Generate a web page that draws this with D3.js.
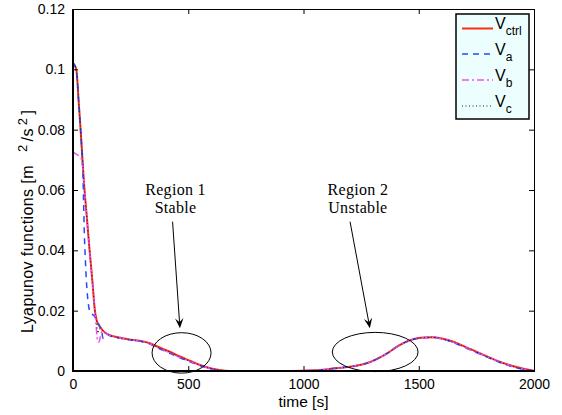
<!DOCTYPE html>
<html>
<head>
<meta charset="utf-8">
<script src="https://cdn.jsdelivr.net/npm/d3@7"></script>
<style>
  html, body { margin: 0; padding: 0; background: #fff; }
  svg { display: block; }
  .tick text { font-family: "Liberation Sans", Arial, sans-serif; font-size: 14px; fill: #000; }
</style>
</head>
<body>
<svg id="chart" width="562" height="415"></svg>
<script>
// Lyapunov function traces: V_ctrl and the three phase functions V_a, V_b, V_c
const tCtrlEarly = [0, 6, 12, 16, 24, 33, 48, 60, 72, 85, 95, 102, 112, 125, 140];
const vCtrlEarly = [0.1020, 0.1015, 0.1005, 0.0990, 0.0900, 0.0800, 0.0620, 0.0510, 0.0400, 0.0290, 0.0200, 0.0170, 0.0152, 0.0138, 0.0127];

const tAEarly = [0, 6, 12, 16, 24, 33, 40, 43, 46, 49, 53, 58, 64, 72, 85, 95, 105, 115, 124, 130, 136, 145];
const vAEarly = [0.1020, 0.1015, 0.1005, 0.0990, 0.0900, 0.0800, 0.0710, 0.0660, 0.0560, 0.0460, 0.0380, 0.0300, 0.0240, 0.0200, 0.0187, 0.0180, 0.0165, 0.0150, 0.0136, 0.0108, 0.0112, 0.0123];

const tBEarly = [0, 15, 30, 38, 48, 60, 72, 85, 95, 100, 105, 110, 115, 122, 130, 140];
const vBEarly = [0.0726, 0.0718, 0.0710, 0.0700, 0.0620, 0.0510, 0.0400, 0.0290, 0.0195, 0.0150, 0.0110, 0.0095, 0.0100, 0.0125, 0.0132, 0.0126];

const tCEarly = [0, 6, 12, 16, 24, 33, 48, 60, 72, 85, 95, 102, 108, 114, 125, 140];
const vCEarly = [0.1020, 0.1015, 0.1005, 0.0990, 0.0900, 0.0800, 0.0620, 0.0510, 0.0400, 0.0290, 0.0200, 0.0165, 0.0125, 0.0140, 0.0136, 0.0126];

// common time base after the initial transient
const tLate = [160, 200, 250, 300, 330, 363, 420, 464, 510, 551, 600, 650, 700, 800, 900, 1000, 1071, 1128, 1200, 1245, 1290, 1332, 1370, 1404, 1440, 1476, 1520, 1560, 1600, 1650, 1700, 1750, 1800, 1850, 1900, 1950, 2000];
const vCtrlLate = [0.0119, 0.0111, 0.0104, 0.0099, 0.0093, 0.0082, 0.0064, 0.0048, 0.0033, 0.0020, 0.0008, 0.0002, 0.0000, 0.0000, 0.0000, 0.0001, 0.0003, 0.0008, 0.0014, 0.0020, 0.0030, 0.0045, 0.0062, 0.0080, 0.0095, 0.0105, 0.0111, 0.0112, 0.0108, 0.0097, 0.0081, 0.0064, 0.0047, 0.0031, 0.0018, 0.0008, 0.0001];
const vALate = [0.0117, 0.0109, 0.0103, 0.0097, 0.0090, 0.0078, 0.0059, 0.0044, 0.0030, 0.0018, 0.0007, 0.0001, 0.0000, 0.0000, 0.0000, 0.0001, 0.0003, 0.0008, 0.0014, 0.0020, 0.0030, 0.0045, 0.0062, 0.0080, 0.0095, 0.0105, 0.0110, 0.0111, 0.0106, 0.0094, 0.0078, 0.0061, 0.0045, 0.0029, 0.0016, 0.0006, 0.0000];
const vBLate = [0.0118, 0.0110, 0.0103, 0.0098, 0.0091, 0.0079, 0.0060, 0.0045, 0.0031, 0.0018, 0.0007, 0.0001, 0.0000, 0.0000, 0.0000, 0.0001, 0.0003, 0.0008, 0.0014, 0.0020, 0.0030, 0.0045, 0.0062, 0.0080, 0.0095, 0.0105, 0.0110, 0.0111, 0.0107, 0.0095, 0.0079, 0.0062, 0.0046, 0.0030, 0.0017, 0.0007, 0.0001];
const vCLate = [0.0118, 0.0110, 0.0104, 0.0098, 0.0092, 0.0080, 0.0062, 0.0046, 0.0032, 0.0019, 0.0008, 0.0002, 0.0000, 0.0000, 0.0000, 0.0001, 0.0003, 0.0008, 0.0014, 0.0020, 0.0030, 0.0045, 0.0062, 0.0080, 0.0095, 0.0105, 0.0111, 0.0112, 0.0107, 0.0096, 0.0080, 0.0063, 0.0046, 0.0030, 0.0017, 0.0007, 0.0001];

const seriesNames = ["ctrl", "a", "b", "c"];
const xTicks = [0, 500, 1000, 1500, 2000];
const yTicks = [0, 0.02, 0.04, 0.06, 0.08, 0.1, 0.12];
const yTickLabels = ["0", "0.02", "0.04", "0.06", "0.08", "0.1", "0.12"];
const regionTitles = ["Region 1", "Region 2"];
const regionStates = ["Stable", "Unstable"];

const svg = d3.select("#chart");
const plot = { left: 73, right: 534, top: 9, bottom: 371 };

const x = d3.scaleLinear().domain([0, 2000]).range([plot.left, plot.right]);
const y = d3.scaleLinear().domain([0, 0.12]).range([plot.bottom, plot.top]);

svg.append("defs").append("clipPath").attr("id", "plotClip")
  .append("rect")
  .attr("x", plot.left).attr("y", plot.top - 1)
  .attr("width", plot.right - plot.left).attr("height", plot.bottom - plot.top + 1);

function zipSeries(tE, vE, vL) {
  const pts = tE.map((t, i) => [t, vE[i]]);
  return pts.concat(tLate.map((t, i) => [t, vL[i]]));
}

const series = [
  { key: "ctrl", pts: zipSeries(tCtrlEarly, vCtrlEarly, vCtrlLate), color: "#ff2d0f", width: 2, dash: null },
  { key: "a", pts: zipSeries(tAEarly, vAEarly, vALate), color: "#2448ff", width: 1.5, dash: "6,5" },
  { key: "b", pts: zipSeries(tBEarly, vBEarly, vBLate), color: "#f050f0", width: 1.5, dash: "7,3,2,3" },
  { key: "c", pts: zipSeries(tCEarly, vCEarly, vCLate), color: "#222", width: 1, dash: "1,2.5" }
];

const line = d3.line()
  .x(d => x(d[0]))
  .y(d => y(d[1]))
  .curve(d3.curveMonotoneX);

const lines = svg.append("g").attr("clip-path", "url(#plotClip)");
series.forEach(s => {
  lines.append("path")
    .attr("d", line(s.pts))
    .attr("fill", "none")
    .attr("stroke", s.color)
    .attr("stroke-width", s.width)
    .attr("stroke-dasharray", s.dash)
    .attr("stroke-linejoin", "round");
});

// Axes with inward ticks on all four sides
const xAxis = d3.axisBottom(x).tickValues(xTicks).tickFormat(d3.format("d"))
  .tickSizeInner(-5).tickSizeOuter(0).tickPadding(8);
const yAxis = d3.axisLeft(y).tickValues(yTicks).tickFormat((d, i) => yTickLabels[i])
  .tickSizeInner(-5).tickSizeOuter(0).tickPadding(8);

const gx = svg.append("g").attr("transform", `translate(0,${plot.bottom})`).call(xAxis);
const gy = svg.append("g").attr("transform", `translate(${plot.left},0)`).call(yAxis);
[gx, gy].forEach(g => {
  g.select(".domain").remove();
  g.selectAll(".tick line").attr("stroke", "#000").attr("stroke-width", 1);
});

const gxTop = svg.append("g").attr("transform", `translate(0,${plot.top})`)
  .call(d3.axisTop(x).tickValues(xTicks).tickSizeInner(-5).tickSizeOuter(0).tickFormat(""));
const gyRight = svg.append("g").attr("transform", `translate(${plot.right},0)`)
  .call(d3.axisRight(y).tickValues(yTicks).tickSizeInner(-5).tickSizeOuter(0).tickFormat(""));
[gxTop, gyRight].forEach(g => {
  g.select(".domain").remove();
  g.selectAll(".tick line").attr("stroke", "#000").attr("stroke-width", 1);
});

// Frame
svg.append("line").attr("x1", plot.left).attr("x2", plot.right).attr("y1", plot.top + 0.5).attr("y2", plot.top + 0.5)
  .attr("stroke", "#000").attr("stroke-width", 1);
svg.append("line").attr("x1", plot.right + 0.5).attr("x2", plot.right + 0.5).attr("y1", plot.top).attr("y2", plot.bottom)
  .attr("stroke", "#000").attr("stroke-width", 1);
svg.append("line").attr("x1", plot.left - 1).attr("x2", plot.right + 1).attr("y1", plot.bottom).attr("y2", plot.bottom)
  .attr("stroke", "#000").attr("stroke-width", 2);
svg.append("line").attr("x1", plot.left).attr("x2", plot.left).attr("y1", plot.top).attr("y2", plot.bottom + 1)
  .attr("stroke", "#000").attr("stroke-width", 2);

// Axis titles
svg.append("text")
  .attr("x", x(1000)).attr("y", 407)
  .attr("text-anchor", "middle")
  .style("font-family", "'Liberation Sans', Arial, sans-serif").style("font-size", "15.5px")
  .text("time [s]");

const yTitle = svg.append("text")
  .attr("transform", "translate(33,333) rotate(-90)")
  .attr("text-anchor", "start")
  .style("font-family", "'Liberation Sans', Arial, sans-serif").style("font-size", "16px")
  .style("letter-spacing", "0.4px");
yTitle.append("tspan").text("Lyapunov functions [m");
yTitle.append("tspan").attr("dx", 13).attr("dy", -6).style("font-size", "13px").text("2");
yTitle.append("tspan").attr("dx", 3).attr("dy", 6).text("/s");
yTitle.append("tspan").attr("dx", 3).attr("dy", -6).style("font-size", "13px").text("2");
yTitle.append("tspan").attr("dx", 3).attr("dy", 6).text("]");

// Region annotations: ellipse, two-line caption, arrow
const regionEllipses = [
  { t: 471, v: 0.0060, rt: 128, rv: 0.0067 },
  { t: 1311, v: 0.0063, rt: 186, rv: 0.0065 }
];
const regionText = [{ t: 445 }, { t: 1236 }];
const regionArrows = [
  { t0: 432, v0: 0.0495, t1: 464, v1: 0.0142 },
  { t0: 1202, v0: 0.0495, t1: 1288, v1: 0.0142 }
];

const ann = svg.append("g");
regionEllipses.forEach(e => {
  ann.append("ellipse")
    .attr("cx", x(e.t)).attr("cy", y(e.v))
    .attr("rx", x(e.t + e.rt) - x(e.t)).attr("ry", y(0) - y(e.rv))
    .attr("fill", "none").attr("stroke", "#000").attr("stroke-width", 1);
});
regionText.forEach((r, i) => {
  const tx = ann.append("text")
    .attr("text-anchor", "middle")
    .style("font-family", "'Liberation Serif', 'Times New Roman', serif").style("font-size", "16px")
    .style("letter-spacing", "0.3px");
  tx.append("tspan").attr("x", x(r.t)).attr("y", y(0.0583)).text(regionTitles[i]);
  tx.append("tspan").attr("x", x(r.t)).attr("y", y(0.0525)).text(regionStates[i]);
});
regionArrows.forEach(a => {
  const x0 = x(a.t0), y0 = y(a.v0), x1 = x(a.t1), y1 = y(a.v1);
  const ang = Math.atan2(y1 - y0, x1 - x0);
  const L = 10, W = 4.2, notch = 6;
  const ux = Math.cos(ang), uy = Math.sin(ang);
  const px = -uy, py = ux;
  ann.append("line")
    .attr("x1", x0).attr("y1", y0)
    .attr("x2", x1 - ux * notch).attr("y2", y1 - uy * notch)
    .attr("stroke", "#000").attr("stroke-width", 1);
  const head = [
    [x1, y1],
    [x1 - ux * L + px * W, y1 - uy * L + py * W],
    [x1 - ux * notch, y1 - uy * notch],
    [x1 - ux * L - px * W, y1 - uy * L - py * W]
  ];
  ann.append("path").attr("d", "M" + head.map(p => p.join(",")).join("L") + "Z").attr("fill", "#000");
});

// Legend
const legend = svg.append("g");
legend.append("rect")
  .attr("x", 456).attr("y", 14).attr("width", 73).attr("height", 105)
  .attr("fill", "#edfefe").attr("stroke", "#000").attr("stroke-width", 1.5);
const legendRows = [28.5, 54, 80, 106];
series.forEach((s, i) => {
  const ly = legendRows[i];
  legend.append("line")
    .attr("x1", 462).attr("x2", 493).attr("y1", ly).attr("y2", ly)
    .attr("stroke", s.color).attr("stroke-width", s.width)
    .attr("stroke-dasharray", s.dash);
  const lt = legend.append("text")
    .attr("x", 495).attr("y", ly + 0.5)
    .style("font-family", "'Liberation Sans', Arial, sans-serif").style("font-size", "16px");
  lt.append("tspan").text("V");
  lt.append("tspan").attr("dy", 6).style("font-size", "12px").text(seriesNames[i]);
});
</script>
</body>
</html>
